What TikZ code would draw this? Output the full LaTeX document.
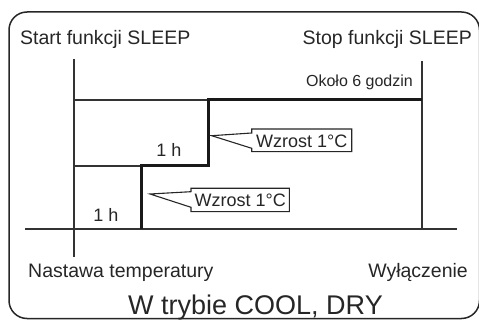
\documentclass[tikz,border=0pt]{standalone}
\usepackage{fontspec}
\setmainfont{Liberation Sans}
\begin{document}
\begin{tikzpicture}[x=1pt,y=-1pt,
  frame/.style={line width=1.5pt, draw=black!85, rounded corners=18pt},
  thinline/.style={line width=1.3pt, draw=black!80},
  thickline/.style={line width=3pt, draw=black!90},
  callout/.style={line width=1.1pt, draw=black!85, fill=white, line join=miter},
  lbl/.style={font=\fontsize{19.5}{22}\selectfont, text=black!85, inner sep=0pt},
  small/.style={font=\fontsize{18}{20}\selectfont, text=black!85, inner sep=0pt},
  title/.style={font=\fontsize{27}{30}\selectfont, text=black!85, inner sep=0pt}]
\useasboundingbox (0,0) rectangle (479,320);
\draw[frame] (9,12) rectangle (479.5,318.5);

% labels
\node[lbl, anchor=base west] (start) at (20,45) {Start funkcji SLEEP};
\node[lbl, anchor=base east] (stop) at (472,45) {Stop funkcji SLEEP};
\node[lbl, anchor=base west] (nastawa) at (28,278) {Nastawa temperatury};
\node[lbl, anchor=base east] (wyl) at (468,278) {Wyłączenie};
\node[title, anchor=base] (mode) at (255.5,314) {W trybie COOL, DRY};

% axes
\coordinate (axL) at (25,229);
\coordinate (axR) at (457,229);
\coordinate (vLt) at (74,59);
\coordinate (vLb) at (74,257);
\coordinate (vRt) at (422,61);
\coordinate (vRb) at (422,229);
\draw[thinline] (axL) -- (axR);
\draw[thinline] (vLt) -- (vLb);
\draw[thinline] (vRt) -- (vRb);

% steps
\coordinate (s0) at (141,229);
\coordinate (s1) at (141,166);
\coordinate (s2) at (208,166);
\coordinate (s3) at (208,100);
\coordinate (s4) at (422,100);
\draw[thinline] (74,100) -- (s3);
\draw[thinline] (74,166) -- (s1);
\draw[thickline, line join=miter] (s0) -- (s1) -- (s2) -- (s3) -- (s4);

\node[small, anchor=base] (h1) at (106,222) {1 h};
\node[small, anchor=base] (h2) at (169,156.5) {1 h};
\node[font=\fontsize{16}{18}\selectfont, text=black!85, inner sep=0pt, anchor=base] (ok) at (359.5,87) {Około 6 godzin};

% callouts
\draw[callout] (251.7,129) -- (351.7,129) -- (351.7,151.7) -- (251.7,151.7) -- (251.7,148.3) -- (211.7,135.7) -- (251.7,133) -- cycle;
\node[small] (w1) at (301.7,141) {Wzrost 1°C};
\draw[callout] (191,188.3) -- (289.3,188.3) -- (289.3,211.7) -- (191,211.7) -- (191,207.3) -- (150,194) -- (191,191.7) -- cycle;
\node[small] (w2) at (240.2,200.5) {Wzrost 1°C};
\end{tikzpicture}
\end{document}
